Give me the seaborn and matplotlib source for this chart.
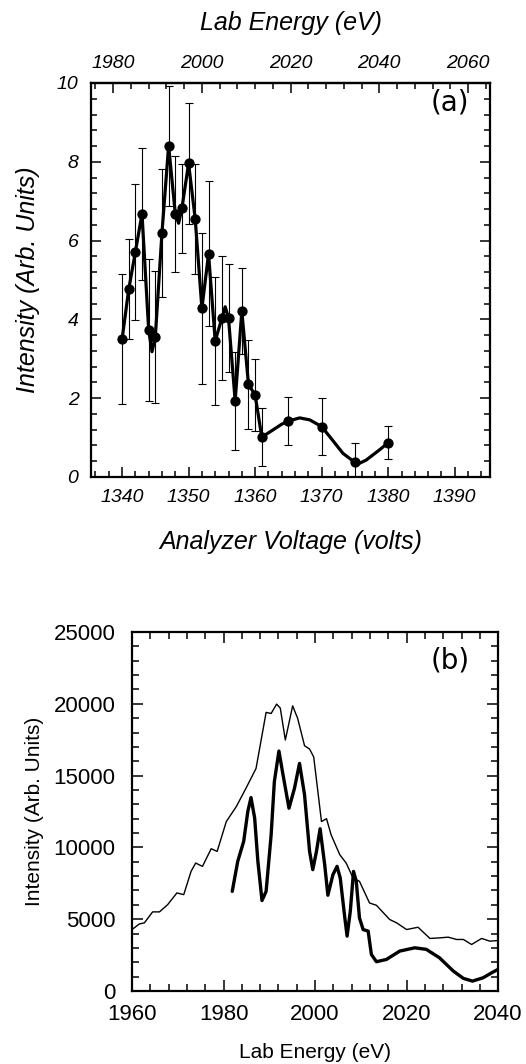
import numpy as np
import pandas as pd
import matplotlib
matplotlib.use("Agg")
import matplotlib.pyplot as plt
from matplotlib.ticker import MultipleLocator
import seaborn as sns

# (a) measured points with error bars
volts = [1340, 1341, 1342, 1343, 1344, 1345, 1346, 1347, 1348, 1349, 1350, 1351, 1352,
         1353, 1354, 1355, 1356, 1357, 1358, 1359, 1360, 1361, 1365, 1370, 1375, 1380]
counts = [3.49, 4.76, 5.71, 6.68, 3.73, 3.56, 6.20, 8.41, 6.68, 6.82, 7.96, 6.54, 4.28,
          5.66, 3.45, 4.03, 4.03, 1.93, 4.21, 2.35, 2.08, 1.01, 1.42, 1.28, 0.37, 0.87]
errs = [1.65, 1.27, 1.73, 1.68, 1.81, 1.68, 1.62, 1.52, 1.47, 1.13, 1.53, 1.40, 1.92,
        1.84, 1.62, 1.57, 1.37, 1.25, 1.10, 1.12, 0.92, 0.74, 0.60, 0.72, 0.50, 0.42]

# (a) smooth curve through the points
fit_volts = [1340, 1341, 1342, 1343, 1344, 1344.5, 1345, 1346, 1347, 1348, 1348.5, 1349,
             1350, 1351, 1352, 1353, 1354, 1355, 1355.5, 1356, 1357, 1358, 1359, 1360,
             1361, 1362, 1363, 1364, 1365, 1366.7, 1368.2, 1370, 1371.7, 1373.2, 1375,
             1375.6, 1376.7, 1378.7, 1380]
fit_counts = [3.49, 4.76, 5.71, 6.68, 3.73, 3.18, 3.56, 6.20, 8.41, 6.68, 6.44, 6.82,
              7.96, 6.54, 4.28, 5.66, 3.45, 4.03, 4.32, 4.03, 1.93, 4.21, 2.35, 2.08,
              1.01, 1.12, 1.23, 1.34, 1.42, 1.50, 1.45, 1.28, 0.92, 0.60, 0.37,
              0.34, 0.43, 0.69, 0.87]

# (b) broad spectrum (thin line)
thin_energy = [1960, 1961.6, 1962.7, 1964.5, 1966, 1967.8, 1969.8, 1971.3, 1972.9, 1973.9,
               1975.4, 1977.3, 1978.6, 1980.6, 1982.8, 1984.9, 1987.1, 1989.3, 1990.4,
               1991.6, 1992.4, 1993.5, 1995.1, 1996.2, 1997.7, 1998.8, 1999.7, 2001.4,
               2002.5, 2003.5, 2005.4, 2006.8, 2008.3, 2009.7, 2011.9, 2013.4, 2016.3,
               2017.8, 2020.0, 2022.5, 2025.1, 2027.2, 2029.1, 2030.9, 2032.4, 2034.2,
               2036.4, 2038.2, 2040]
thin_counts = [4280, 4670, 4745, 5510, 5510, 6020, 6830, 6710, 8330, 8910,
               8680, 9910, 9720, 11800, 12850, 14120, 15500, 19400, 19330,
               19980, 19700, 17480, 19860, 18980, 17080, 16850, 16300, 11800,
               12000, 10880, 9490, 8910, 7870, 7640, 6130, 5970, 4980,
               4750, 4280, 4440, 3660, 3700, 3750, 3590, 3590, 3240,
               3660, 3470, 3520]

# (b) resolved spectrum (thick line)
thick_energy = [1981.9, 1983.1, 1984.4, 1985.3, 1986.0, 1986.8, 1987.5, 1988.4, 1989.3,
                1990.4, 1991.1, 1992.1, 1993.0, 1994.3, 1995.5, 1996.6, 1997.7, 1998.8,
                1999.5, 2000.3, 2001.1, 2002.1, 2002.8, 2003.9, 2004.8, 2005.5, 2006.5,
                2007.0, 2007.7, 2008.4, 2009.0, 2009.7, 2010.5, 2011.6, 2012.3, 2013.4,
                2015.6, 2018.5, 2021.8, 2024.3, 2027.2, 2030.2, 2032.4, 2034.4, 2036.7,
                2038.6, 2040]
thick_counts = [6940, 9030, 10420, 12500, 13470, 12040, 9030, 6300, 6940,
                10880, 14580, 16710, 15050, 12730, 14120, 15850, 13660, 9720,
                8450, 9720, 11300, 8800, 6670, 8100, 8680, 7870, 5090,
                3820, 5560, 8330, 7640, 5090, 4280, 4170, 2550, 2040,
                2200, 2780, 3010, 2900, 2310, 1390, 880, 690, 920,
                1270, 1510]

volt_ticks = [1340, 1350, 1360, 1370, 1380, 1390]
lab_ticks = [1980, 2000, 2020, 2040, 2060]
top_yticks = [0, 2, 4, 6, 8, 10]
bot_xticks = [1960, 1980, 2000, 2020, 2040]
bot_yticks = [0, 5000, 10000, 15000, 20000, 25000]

sns.set_style("ticks")
plt.rcParams['font.family'] = ['Liberation Sans', 'DejaVu Sans']
plt.rcParams.update({
    'text.color': 'black', 'axes.labelcolor': 'black', 'axes.edgecolor': 'black',
    'xtick.color': 'black', 'ytick.color': 'black',
})


def to_lab(v):
    return 1.5 * np.asarray(v) - 28.0


def to_volt(e):
    return (np.asarray(e) + 28.0) / 1.5


fig = plt.figure(figsize=(5.26, 10.64), dpi=100)

# italic text for panel (a)
ita = dict(style='italic')

# ---------- panel (a) ----------
ax1 = fig.add_axes([0.173, 0.5517, 0.759, 0.3703])
ax1.errorbar(volts, counts, yerr=errs, fmt='none', ecolor='black',
             elinewidth=0.8, capsize=3, capthick=0.8, zorder=2)
sns.lineplot(x=fit_volts, y=fit_counts, ax=ax1, color='black', linewidth=2.3,
             sort=False, estimator=None, zorder=3)
sns.scatterplot(x=volts, y=counts, ax=ax1, color='black', s=55,
                edgecolor='black', linewidth=0, zorder=4)

ax1.set_xlim(to_volt(1975), to_volt(2065))
ax1.set_ylim(0, 10)
ax1.set_xticks(volt_ticks)
ax1.set_xticklabels([str(t) for t in volt_ticks], fontsize=14, **ita)
ax1.set_yticks(top_yticks)
ax1.set_yticklabels([str(t) for t in top_yticks], fontsize=14, **ita)
ax1.xaxis.set_minor_locator(MultipleLocator(2))
ax1.yaxis.set_minor_locator(MultipleLocator(0.4))
ax1.tick_params(which='both', direction='in', top=False, right=True, width=1.1)
ax1.tick_params(which='major', length=7, pad=9)
ax1.tick_params(which='minor', length=4)
ax1.set_xlabel('Analyzer Voltage (volts)', fontsize=18, labelpad=17, **ita)
ax1.set_ylabel('Intensity (Arb. Units)', fontsize=18, labelpad=12, **ita)

sec = ax1.secondary_xaxis('top', functions=(to_lab, to_volt))
sec.set_xticks(lab_ticks)
sec.set_xticklabels([str(t) for t in lab_ticks], fontsize=14, **ita)
sec.xaxis.set_minor_locator(MultipleLocator(4))
sec.tick_params(which='both', direction='in', width=1.1)
sec.tick_params(which='major', length=7, pad=8)
sec.tick_params(which='minor', length=4)
sec.set_xlabel('Lab Energy (eV)', fontsize=18, labelpad=18, **ita)
sec.spines['top'].set_linewidth(1.6)

for s in ax1.spines.values():
    s.set_linewidth(1.6)
ax1.text(0.9, 0.95, '(a)', transform=ax1.transAxes, fontsize=20,
         ha='center', va='center', family='DejaVu Sans')

# ---------- panel (b) ----------
ax2 = fig.add_axes([0.251, 0.0686, 0.696, 0.3374])
sns.lineplot(x=thin_energy, y=thin_counts, ax=ax2, color='black', linewidth=1.0,
             sort=False, estimator=None)
sns.lineplot(x=thick_energy, y=thick_counts, ax=ax2, color='black', linewidth=2.4,
             sort=False, estimator=None)

ax2.set_xlim(1960, 2040)
ax2.set_ylim(0, 25000)
ax2.set_xticks(bot_xticks)
ax2.set_xticklabels([str(t) for t in bot_xticks], fontsize=16)
ax2.set_yticks(bot_yticks)
ax2.set_yticklabels([str(t) for t in bot_yticks], fontsize=16)
ax2.xaxis.set_minor_locator(MultipleLocator(4))
ax2.yaxis.set_minor_locator(MultipleLocator(1000))
ax2.tick_params(which='both', direction='in', top=True, right=True, width=1.1)
ax2.tick_params(which='major', length=8)
ax2.tick_params(axis='x', which='major', pad=9)
ax2.tick_params(axis='y', which='major', pad=12)
ax2.tick_params(which='minor', length=5)
ax2.set_xlabel('Lab Energy (eV)', fontsize=15, labelpad=13)
ax2.set_ylabel('Intensity (Arb. Units)', fontsize=15, labelpad=7)
for s in ax2.spines.values():
    s.set_linewidth(1.6)
ax2.text(0.87, 0.92, '(b)', transform=ax2.transAxes, fontsize=20,
         ha='center', va='center', family='DejaVu Sans')

fig.savefig("out.png", dpi=100)
